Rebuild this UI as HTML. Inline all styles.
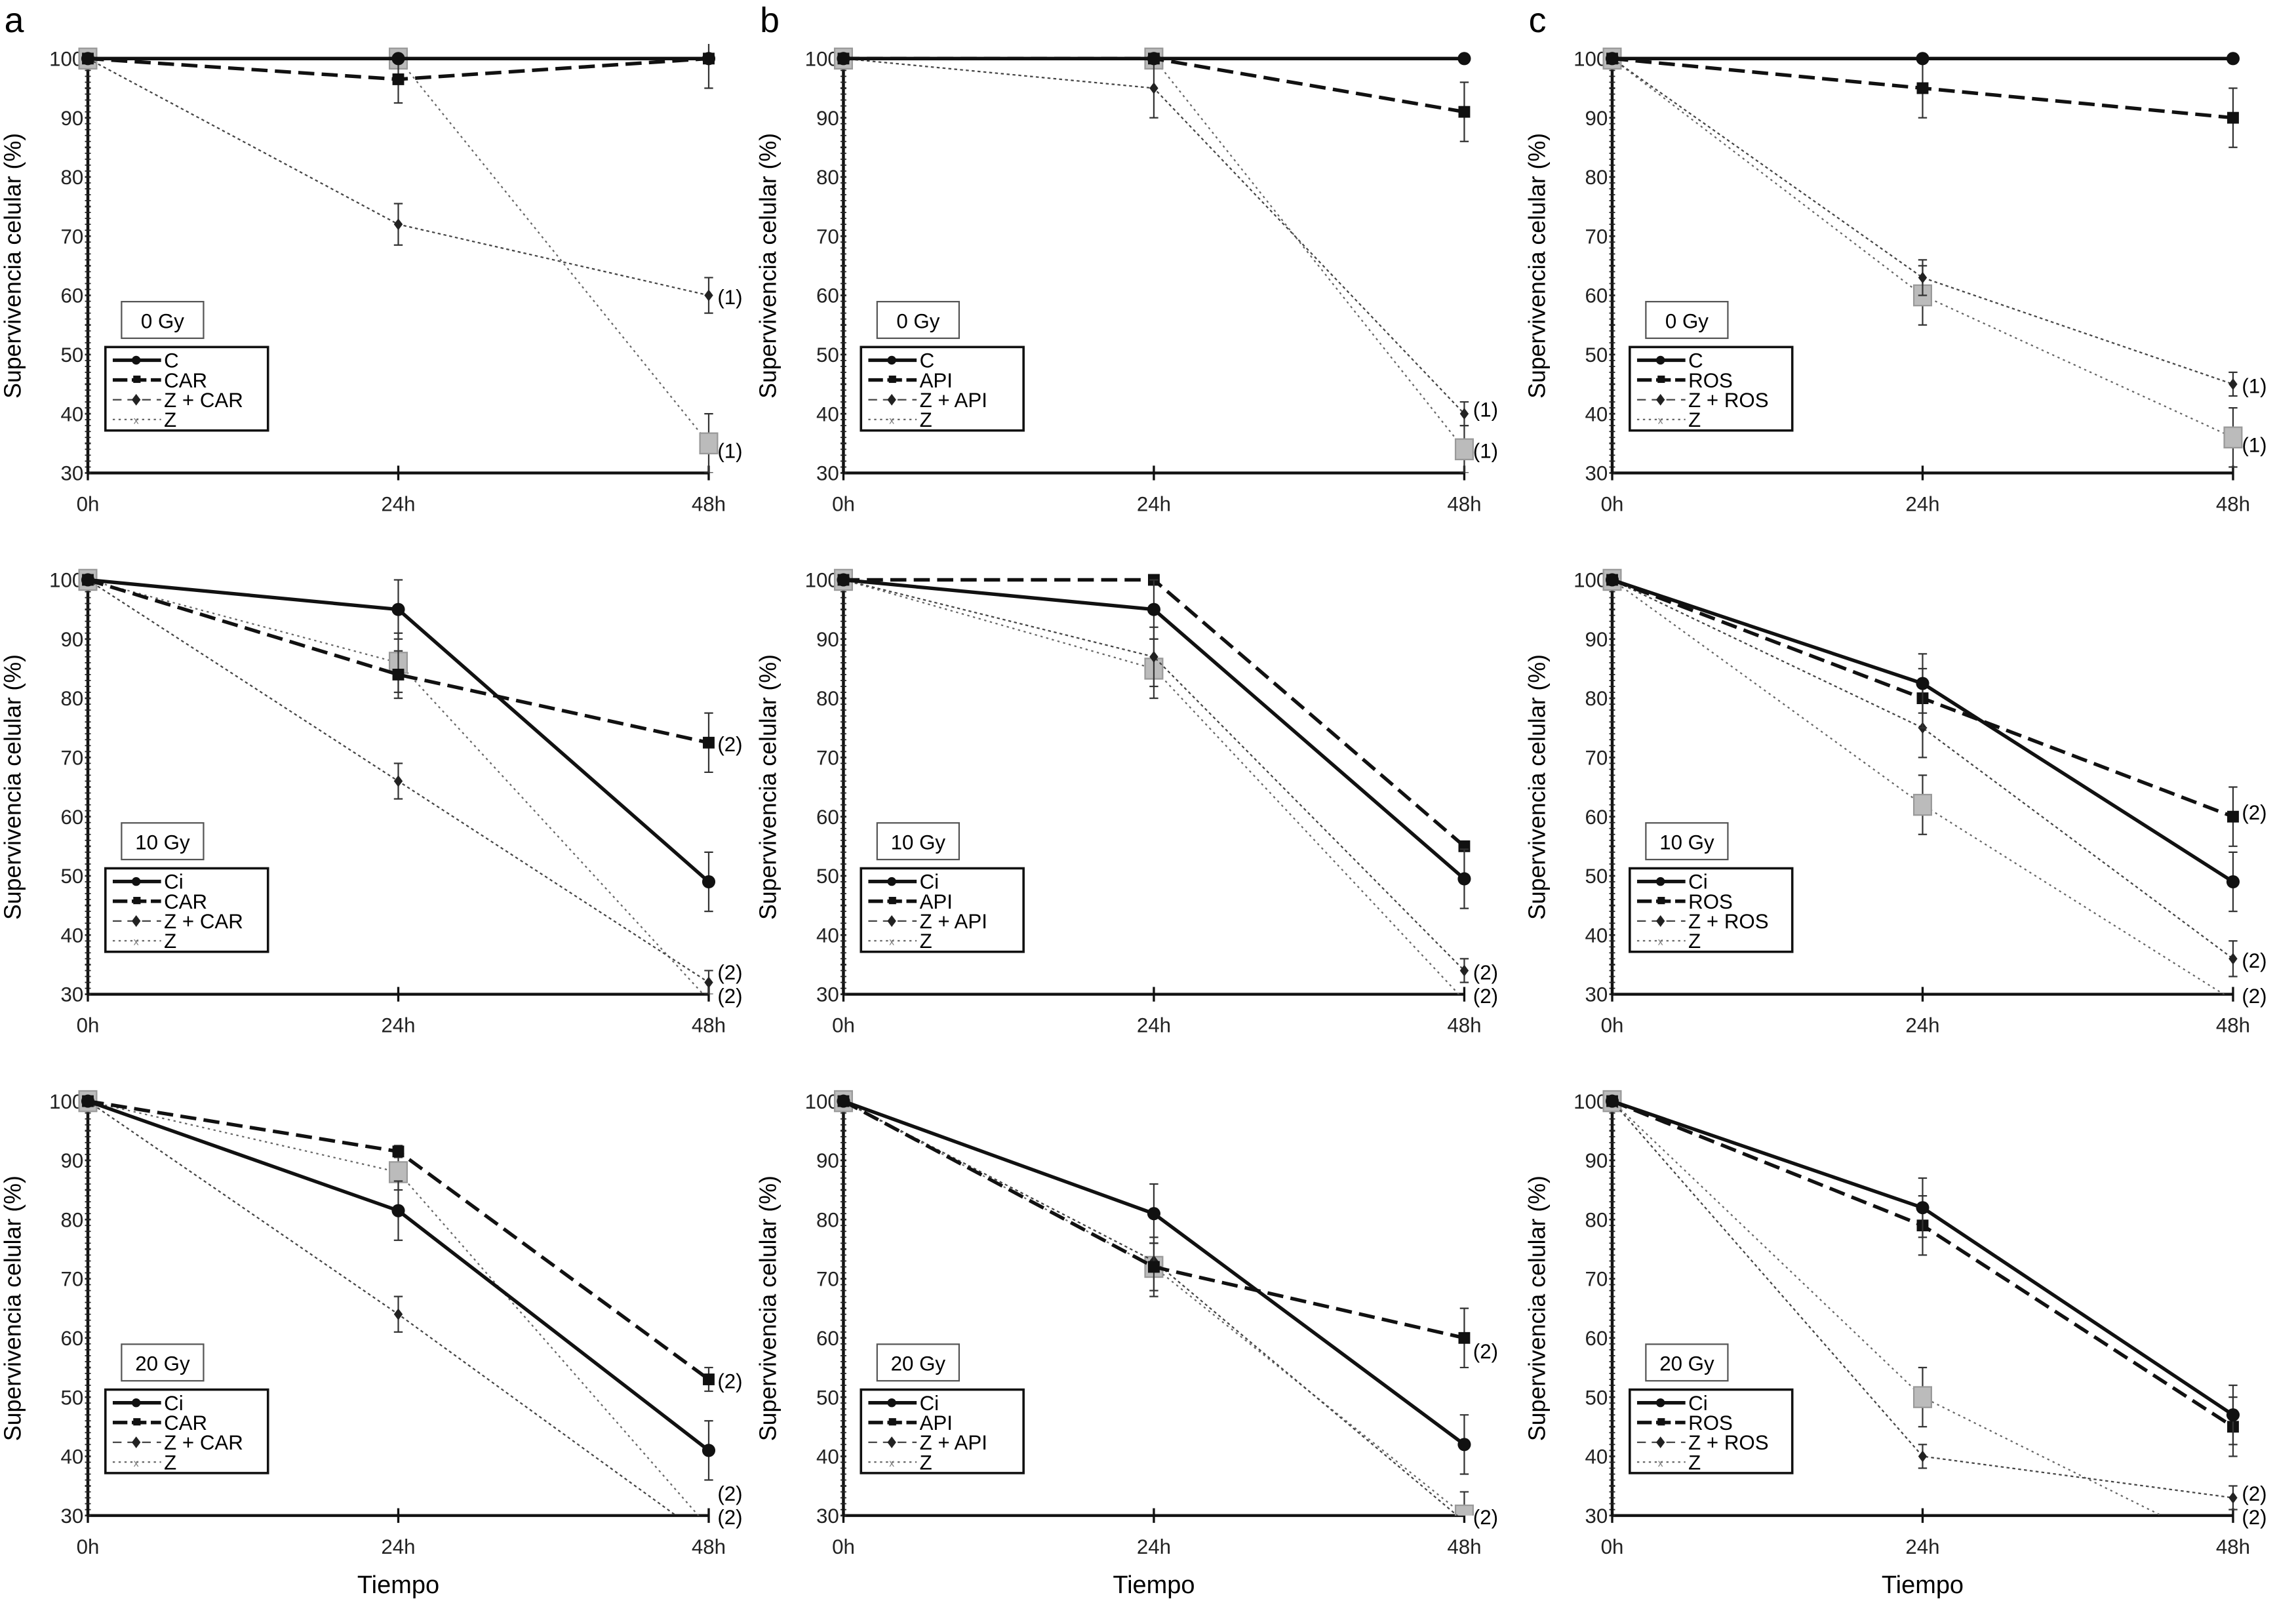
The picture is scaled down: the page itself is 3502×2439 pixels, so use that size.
<!DOCTYPE html>
<html><head><meta charset="utf-8"><style>
html,body{margin:0;padding:0;background:#fff;}
svg{display:block;}
text{font-family:"Liberation Sans",sans-serif;}
</style></head><body>
<svg id="fig" width="3502" height="2439" viewBox="0 0 1568 1092" preserveAspectRatio="none" xmlns="http://www.w3.org/2000/svg"></svg>
<script>
const timeLabels = ["0h","24h","48h"];
const yTicks = [30,40,50,60,70,80,90,100];
const doseLabels = ["0 Gy","10 Gy","20 Gy"];
const compounds = ["CAR","API","ROS"];
const controlNames = ["C","Ci","Ci"];
// values per panel [row][col]: C, X, Z+X, Z
const cVals = [
 [[100,100,100],[100,100,100],[100,100,100]],
 [[100,95,49],[100,95,49.5],[100,82.5,49]],
 [[100,81.5,41],[100,81,42],[100,82,47]]];
const xVals = [
 [[100,96.5,100],[100,100,91],[100,95,90]],
 [[100,84,72.5],[100,100,55],[100,80,60]],
 [[100,91.5,53],[100,72,60],[100,79,45]]];
const zxVals = [
 [[100,72,60],[100,95,40],[100,63,45]],
 [[100,66,32],[100,87,34],[100,75,36]],
 [[100,64,26],[100,73,29],[100,40,33]]];
const zVals = [
 [[100,100,35],[100,100,34],[100,60,36]],
 [[100,86,29],[100,85,29],[100,62,29]],
 [[100,88,28],[100,72,30],[100,50,24]]];
const cErr = [[[0,0,0],[0,0,0],[0,0,0]],[[0,5,5],[0,5,5],[0,5,5]],[[0,5,5],[0,5,5],[0,5,5]]];
const xErr = [[[0,4,5],[0,0,5],[0,5,5]],[[0,4,5],[0,0,0],[0,5,5]],[[0,1,2],[0,5,5],[0,5,5]]];
const zxErr = [[[0,3.5,3],[0,5,2],[0,3,2]],[[0,3,2],[0,5,2],[0,5,3]],[[0,3,0],[0,0,0],[0,2,2]]];
const zErr = [[[0,0,5],[0,0,4],[0,5,5]],[[0,5,0],[0,5,0],[0,5,0]],[[0,3,0],[0,4,4],[0,5,0]]];
const notes = [
 [[["(1)",60],["(1)",34]],[["(1)",41],["(1)",34]],[["(1)",45],["(1)",35]]],
 [[["(2)",72.5],["(2)",34],["(2)",30]],[["(2)",34],["(2)",30]],[["(2)",61],["(2)",36],["(2)",30]]],
 [[["(2)",53],["(2)",34],["(2)",30]],[["(2)",58],["(2)",30]],[["(2)",34],["(2)",30]]]];

const NS="http://www.w3.org/2000/svg";
const svg=document.getElementById('fig');
function mk(tag,attrs,parent,txt){const e=document.createElementNS(NS,tag);for(const k in attrs)e.setAttribute(k,attrs[k]);if(txt!==undefined)e.textContent=txt;(parent||svg).appendChild(e);return e;}
const colX0=[60,576,1101], W=424;
const rowY100=[40,396,752], H=283;
const letters=["a","b","c"];
let defs=mk('defs',{});
for(let c=0;c<3;c++){
  const t=mk('text',{x:colX0[c]-57,y:22,'font-size':24},svg,letters[c]);
  
  
  const tt=mk('text',{x:colX0[c]+212,y:1088,'font-size':17,'text-anchor':'middle'},svg,'Tiempo');
  
  
}
for(let r=0;r<3;r++)for(let c=0;c<3;c++){
  const x0=colX0[c], yTop=rowY100[r];
  const xs=i=>x0+i*W/2;
  const ys=v=>yTop+(100-v)*H/70;
  const g=mk('g',{});
  
  
  const cid='clip'+r+c;
  const cp=mk('clipPath',{id:cid},defs);mk('rect',{x:x0-10,y:yTop-10,width:W+20,height:H+10},cp);
  // axes
  const ya=mk('line',{x1:x0,y1:yTop-3,x2:x0,y2:ys(30),stroke:'#111','stroke-width':2},g);
  
  const xa=mk('line',{x1:x0,y1:ys(30),x2:x0+W,y2:ys(30),stroke:'#111','stroke-width':2},g);
  
  for(let v=30;v<=100;v+=1){mk('line',{x1:x0-2,y1:ys(v),x2:x0+2,y2:ys(v),stroke:'#222','stroke-width':(v%5?0.8:1.2)},g);}
  yTicks.forEach(v=>{const t=mk('text',{x:x0-3,y:ys(v)+5,'font-size':14,'text-anchor':'end',fill:'#222'},g,String(v));
    });
  timeLabels.forEach((l,i)=>{mk('line',{x1:xs(i),y1:ys(30)-5,x2:xs(i),y2:ys(30)+5,stroke:'#111','stroke-width':1.5},g);
    const t=mk('text',{x:xs(i),y:ys(30)+26,'font-size':14,'text-anchor':'middle',fill:'#222'},g,l);
    });
  const yt=mk('text',{transform:`translate(${x0-46},${yTop+H/2}) rotate(-90)`,'font-size':16,'text-anchor':'middle'},g,'Supervivencia celular (%)');
  
  const series=[
    {name:controlNames[r],v:cVals[r][c],e:cErr[r][c],st:{stroke:'#111','stroke-width':2.4},mark:'circle'},
    {name:compounds[c],v:xVals[r][c],e:xErr[r][c],st:{stroke:'#111','stroke-width':2.4,'stroke-dasharray':'11,5'},mark:'square'},
    {name:'Z + '+compounds[c],v:zxVals[r][c],e:zxErr[r][c],st:{stroke:'#444','stroke-width':1,'stroke-dasharray':'2,2'},mark:'diamond'},
    {name:'Z',v:zVals[r][c],e:zErr[r][c],st:{stroke:'#666','stroke-width':1,'stroke-dasharray':'1.5,2.5'},mark:'x'}];
  const pg=mk('g',{'clip-path':`url(#${cid})`},g);
  series.slice().reverse().forEach(s=>{
    const pts=s.v.map((v,i)=>xs(i)+','+ys(v)).join(' ');
    const pl=mk('polyline',Object.assign({points:pts,fill:'none'},s.st),pg);
    
    
    s.v.forEach((v,i)=>{
      const X=xs(i),Y=ys(v);
      if(s.e[i]>0){mk('line',{x1:X,y1:ys(v+s.e[i]),x2:X,y2:ys(v-s.e[i]),stroke:'#333','stroke-width':1},pg);
        mk('line',{x1:X-3,y1:ys(v+s.e[i]),x2:X+3,y2:ys(v+s.e[i]),stroke:'#333','stroke-width':1},pg);
        mk('line',{x1:X-3,y1:ys(v-s.e[i]),x2:X+3,y2:ys(v-s.e[i]),stroke:'#333','stroke-width':1},pg);}
      if(v<30)return;
      let m;
      if(s.mark==='circle')m=mk('circle',{cx:X,cy:Y,r:4.5,fill:'#111'},pg);
      else if(s.mark==='square')m=mk('rect',{x:X-4,y:Y-4,width:8,height:8,fill:'#111'},pg);
      else if(s.mark==='diamond')m=mk('polygon',{points:`${X},${Y-4} ${X+3},${Y} ${X},${Y+4} ${X-3},${Y}`,fill:'#222'},pg);
      else m=mk('rect',{x:X-6,y:Y-7,width:12,height:14,fill:'#bbb',stroke:'#999'},pg);
      
      
    });
  });
  notes[r][c].forEach(n=>{const t=mk('text',{x:x0+W+6,y:ys(n[1])+6,'font-size':14},g,n[0]);
    });
  // dose box
  const bx=x0+23, by=ys(30)-117;
  const db=mk('rect',{x:bx,y:by,width:56,height:25,fill:'#fff',stroke:'#555','stroke-width':1},g);
  
  mk('text',{x:bx+28,y:by+18,'font-size':14,'text-anchor':'middle'},g,doseLabels[r]);
  // legend
  const lx=x0+12, ly=ys(30)-86;
  const lg=mk('rect',{x:lx,y:ly,width:111,height:57,fill:'#fff',stroke:'#111','stroke-width':1.6},g);
  
  series.forEach((s,i)=>{
    const yy=ly+9+i*13.5;
    mk('line',Object.assign({x1:lx+5,y1:yy,x2:lx+38,y2:yy},s.st,{'stroke-dasharray':i===1?'10,3':(i===2?'6,4':(i===3?'1.5,2.5':'none'))}),g);
    if(i===0)mk('circle',{cx:lx+21,cy:yy,r:3,fill:'#111'},g);
    else if(i===1)mk('rect',{x:lx+19,y:yy-3,width:5,height:5,fill:'#111'},g);
    else if(i===2)mk('polygon',{points:`${lx+21},${yy-4} ${lx+24},${yy} ${lx+21},${yy+4} ${lx+18},${yy}`,fill:'#222'},g);
    else mk('text',{x:lx+21,y:yy+3,'font-size':7,'text-anchor':'middle',fill:'#777'},g,'x');
    const t=mk('text',{x:lx+40,y:yy+5,'font-size':14},g,s.name);
    
  });
}
</script>
</body></html>
